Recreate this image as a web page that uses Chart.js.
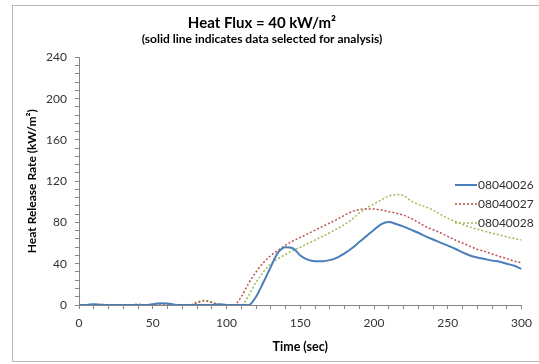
<!DOCTYPE html>
<html>
<head>
<meta charset="utf-8">
<script src="https://cdn.jsdelivr.net/npm/chart.js@4/dist/chart.umd.min.js"></script>
<style>
  html, body { margin: 0; padding: 0; background: #fff; }
  #wrap { position: relative; width: 539px; height: 364px; }
</style>
</head>
<body>
<div id="wrap"><canvas id="chart" width="539" height="364"></canvas></div>
<script>
// time axis (sec), shared by all three tests
const timeSec = [0, 5, 10, 15, 20, 25, 30, 35, 40, 45, 50, 55, 60, 65, 70, 75, 80, 85, 90, 95,
  100, 105, 110, 115, 120, 125, 130, 135, 140, 145, 150, 155, 160, 165, 170, 175, 180, 185, 190, 195,
  200, 205, 210, 215, 220, 225, 230, 235, 240, 245, 250, 255, 260, 265, 270, 275, 280, 285, 290, 295, 300];

// heat release rate (kW/m2)
const hrr26 = [0, 0, 0.8, 0.3, 0, 0, 0, 0, 0, 0, 0.8, 1.8, 1.5, 0.3, 0, 0, 0, 0, 0, 0.8,
  0, 0, 0, 0, 8, 22, 37, 51, 56, 55, 48, 44, 42.5, 42.5, 43.5, 46, 50, 55, 61, 67,
  73, 78.5, 80.5, 78.5, 76, 73, 70, 66.5, 63.5, 60.5, 57.5, 54.5, 51, 48, 46, 44.5, 43, 42, 40, 38, 35];
const hrr27 = [0, 0, 0, 0, 0, 0, 0, 0, 0.8, 0, 0, 0, 0, 0, 0, 0, 2, 4, 2.5, 0,
  0, 0, 8, 21, 32, 41, 48, 53, 58, 62, 65.5, 69, 72.5, 76, 79.5, 83, 87, 90.5, 92.5, 93,
  93, 92, 90.5, 89, 87, 84, 80, 76, 73, 70, 66.5, 63, 60, 57, 54, 52, 49.5, 47, 45, 42.5, 41];
const hrr28 = [0, 0, 0, 0, 0, 0, 0, 0, 0, 0, 0, 0, 0, 0, 0, 0, 3, 4.5, 3, 0.5,
  0, 0, 0, 9, 22, 32, 40, 45, 49, 53, 56, 59.5, 63, 66.5, 70, 74, 78, 83, 89, 94,
  98, 102, 105.5, 107, 106, 101, 97.5, 95, 92, 88, 84, 81, 78, 75.5, 73.5, 71.5, 69.5, 68, 66, 64.5, 63];

const testNames = ["08040026", "08040027", "08040028"];
const xTickLabels = [0, 50, 100, 150, 200, 250, 300];
const yTickLabels = [0, 40, 80, 120, 160, 200, 240];

const FONT = "Lato, 'Open Sans', sans-serif";
const toPoints = (vals) => vals.map((v, i) => ({ x: timeSec[i], y: v }));

// legend drawn inside the plot, like the original
const innerLegend = {
  id: "innerLegend",
  afterDatasetsDraw(chart) {
    const ctx = chart.ctx;
    const x0 = 455, x1 = 477;
    const rows = [185, 204, 223];
    ctx.save();
    ctx.font = "12px " + FONT;
    ctx.textBaseline = "middle";
    chart.data.datasets.forEach((ds, i) => {
      const y = rows[i];
      ctx.strokeStyle = ds.borderColor;
      ctx.lineWidth = ds.borderWidth;
      ctx.setLineDash(ds.borderDash || []);
      ctx.beginPath();
      ctx.moveTo(x0, y);
      ctx.lineTo(x1, y);
      ctx.stroke();
      ctx.setLineDash([]);
      ctx.fillStyle = "#303030";
      ctx.fillText(ds.label, x1 + 1, y);
    });
    ctx.restore();
  },
};

const frame = {
  id: "frame",
  beforeDraw(chart) {
    const ctx = chart.ctx;
    ctx.save();
    ctx.fillStyle = "#fff";
    ctx.fillRect(0, 0, chart.width, chart.height);
    ctx.strokeStyle = "#b8b8b8";
    ctx.lineWidth = 1;
    ctx.strokeRect(12.5, 5.5, 540, 356);
    ctx.restore();
  },
};

const config = {
  type: "line",
  data: {
    datasets: [
      {
        label: testNames[0],
        data: toPoints(hrr26),
        borderColor: "#4a7ebb",
        borderWidth: 2,
        pointRadius: 0,
        cubicInterpolationMode: "monotone",
      },
      {
        label: testNames[1],
        data: toPoints(hrr27),
        borderColor: "#c0504d",
        borderWidth: 1.5,
        borderDash: [2, 2],
        pointRadius: 0,
        cubicInterpolationMode: "monotone",
      },
      {
        label: testNames[2],
        data: toPoints(hrr28),
        borderColor: "#9bbb59",
        borderWidth: 1.5,
        borderDash: [2, 2],
        pointRadius: 0,
        cubicInterpolationMode: "monotone",
      },
    ],
  },
  options: {
    responsive: false,
    animation: false,
    layout: { padding: { left: 0, right: 15, top: 0, bottom: 0 } },
    plugins: {
      legend: { display: false },
      tooltip: { enabled: false },
      title: {
        display: true,
        text: "Heat Flux = 40 kW/m²",
        color: "#000",
        font: { family: FONT, size: 15, weight: "bold" },
        padding: { top: 14, bottom: 0 },
      },
      subtitle: {
        display: true,
        text: "(solid line indicates data selected for analysis)",
        color: "#000",
        font: { family: FONT, size: 12, weight: "bold" },
        padding: { top: 0, bottom: 11 },
      },
    },
    scales: {
      x: {
        type: "linear",
        min: 0,
        max: 300,
        afterFit: (scale) => { scale.height = 59; },
        grid: { drawOnChartArea: false, drawTicks: true, tickLength: 4, color: "#868686" },
        border: { display: true, color: "#868686" },
        ticks: {
          stepSize: 10,
          autoSkip: false,
          maxRotation: 0,
          padding: 7,
          color: "#333",
          font: { family: FONT, size: 12 },
          callback: (v) => (xTickLabels.includes(v) ? v : ""),
        },
        title: {
          display: true,
          text: "Time (sec)",
          color: "#000",
          font: { family: FONT, size: 12.5, weight: "bold" },
          padding: { top: 0, bottom: 9.5 },
        },
      },
      y: {
        min: 0,
        max: 240,
        afterFit: (scale) => { scale.width = 79; },
        grid: { drawOnChartArea: false, drawTicks: true, tickLength: 4, color: "#868686" },
        border: { display: true, color: "#868686" },
        ticks: {
          stepSize: 8,
          autoSkip: false,
          padding: 8,
          color: "#333",
          font: { family: FONT, size: 12 },
          callback: (v) => (yTickLabels.includes(v) ? v : ""),
        },
        title: {
          display: true,
          text: "Heat Release Rate (kW/m²)",
          color: "#000",
          font: { family: FONT, size: 12, weight: "bold" },
          padding: { top: 25, bottom: 0 },
        },
      },
    },
  },
  plugins: [frame, innerLegend],
};

const chart = new Chart(document.getElementById("chart"), config);
</script>
</body>
</html>
